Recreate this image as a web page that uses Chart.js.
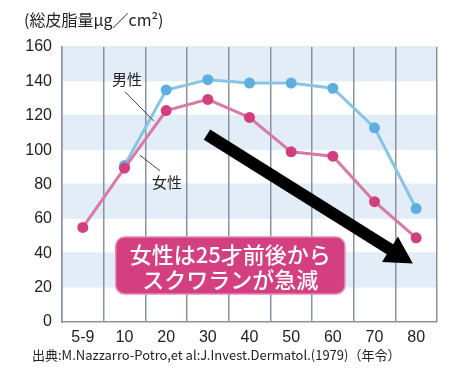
<!DOCTYPE html>
<html><head><meta charset="utf-8">
<script src="https://cdn.jsdelivr.net/npm/chart.js@4"></script>
<style>html,body{margin:0;padding:0;background:#fff}#wrap{width:458px;height:378px}</style>
</head><body><div id="wrap"><canvas id="c" width="458" height="378"></canvas></div>
<script>
const categories = ['5-9','10','20','30','40','50','60','70','80'];
const maleValues = [null, 91, 135, 141, 139, 139, 136, 113, 66];
const femaleValues = [55, 89.5, 123, 129.5, 119, 99, 96.5, 70, 49];
const yMin = 0, yMax = 160, yStep = 20;
const titleText = '(総皮脂量μg／cm²)';
const sourceText = '出典:M.Nazzarro-Potro,et al:J.Invest.Dermatol.(1979)（年令）';
const maleLabel = '男性', femaleLabel = '女性';
const boxLines = ['女性は25才前後から', 'スクワランが急減'];

const FONT = '"Noto Sans CJK JP", "Noto Sans", sans-serif';
const NUMFONT = '"Liberation Sans", "Noto Sans CJK JP", sans-serif';
// annotation anchors in data units (category index, value)
const ann = {
  maleText: [1.06, 141], maleLead: [[1.01, 134], [1.70, 117]],
  femaleText: [2.02, 81], femaleLead: [[1.37, 97], [1.85, 88]],
  arrow: [[2.98, 109], [7.92, 34]],
  box: [[0.79, 49.4], [6.29, 16.3]]
};

const deco = {
  id: 'deco',
  beforeDraw(chart) {
    const {ctx, chartArea: a, scales: {y}} = chart;
    ctx.save();
    ctx.fillStyle = '#fff';
    ctx.fillRect(0, 0, chart.width, chart.height);
    ctx.fillStyle = '#e2edf8';
    for (let v = yMax; v > yMin; v -= 2 * yStep) {
      const t = y.getPixelForValue(v), b = y.getPixelForValue(v - yStep);
      ctx.fillRect(a.left, t - 1, a.right - a.left, b - t + 1);
    }
    ctx.restore();
  },
  afterDraw(chart) {
    const {ctx, scales: {x, y}} = chart;
    const P = p => [x.getPixelForValue(p[0]), y.getPixelForValue(p[1])];
    ctx.save();
    // title
    ctx.fillStyle = '#222';
    ctx.font = '16px ' + FONT;
    ctx.textBaseline = 'middle';
    ctx.textAlign = 'left';
    ctx.fillText(titleText, 24, 20, 140);
    // source
    ctx.font = '13px ' + FONT;
    ctx.fillText(sourceText, 32, 355, 406);
    // leader lines
    ctx.strokeStyle = '#444';
    ctx.lineWidth = 1;
    [ann.maleLead, ann.femaleLead].forEach(l => {
      const p0 = P(l[0]), p1 = P(l[1]);
      ctx.beginPath(); ctx.moveTo(p0[0], p0[1]); ctx.lineTo(p1[0], p1[1]); ctx.stroke();
    });
    ctx.font = '15px ' + FONT;
    ctx.textAlign = 'center';
    ctx.fillStyle = '#222';
    let p = P(ann.maleText); ctx.fillText(maleLabel, p[0], p[1]);
    p = P(ann.femaleText); ctx.fillText(femaleLabel, p[0], p[1]);
    // arrow
    const s = P(ann.arrow[0]), e = P(ann.arrow[1]);
    const dx = e[0] - s[0], dy = e[1] - s[1], L = Math.hypot(dx, dy);
    const ux = dx / L, uy = dy / L, nx = -uy, ny = ux;
    const hl = 27, hw = 15, sw = 6;
    const bx = e[0] - ux * hl, by = e[1] - uy * hl;
    ctx.fillStyle = '#000';
    ctx.beginPath();
    ctx.moveTo(s[0] + nx * sw, s[1] + ny * sw);
    ctx.lineTo(bx + nx * sw, by + ny * sw);
    ctx.lineTo(bx + nx * hw, by + ny * hw);
    ctx.lineTo(e[0], e[1]);
    ctx.lineTo(bx - nx * hw, by - ny * hw);
    ctx.lineTo(bx - nx * sw, by - ny * sw);
    ctx.lineTo(s[0] - nx * sw, s[1] - ny * sw);
    ctx.closePath();
    ctx.fill();
    // box
    const b0 = P(ann.box[0]), b1 = P(ann.box[1]);
    ctx.beginPath();
    ctx.roundRect(b0[0], b0[1], b1[0] - b0[0], b1[1] - b0[1], 9);
    ctx.fillStyle = '#d33f80';
    ctx.fill();
    ctx.strokeStyle = '#e58ab2';
    ctx.lineWidth = 1.5;
    ctx.stroke();
    ctx.fillStyle = '#fff';
    ctx.font = '500 22px ' + FONT;
    const cx = (b0[0] + b1[0]) / 2, h = b1[1] - b0[1];
    ctx.fillText(boxLines[0], cx, b0[1] + h * 0.31, 204);
    ctx.fillText(boxLines[1], cx, b0[1] + h * 0.74);
    ctx.restore();
  }
};

new Chart(document.getElementById('c'), {
  type: 'line',
  data: {
    labels: categories,
    datasets: [
      { label: femaleLabel, data: femaleValues, borderColor: '#d87aa6', backgroundColor: '#d23f7e',
        pointBackgroundColor: '#d23f7e', pointBorderColor: '#d23f7e', borderWidth: 3, pointRadius: 5.5, pointBorderWidth: 0 },
      { label: maleLabel, data: maleValues, borderColor: '#86c5e4', backgroundColor: '#5cafdf',
        pointBackgroundColor: '#5cafdf', pointBorderColor: '#5cafdf', borderWidth: 3, pointRadius: 5.5, pointBorderWidth: 0 }
    ]
  },
  options: {
    responsive: false, animation: false, devicePixelRatio: 1,
    layout: { padding: { left: 0, top: 47, right: 21, bottom: 26 } },
    plugins: { legend: { display: false }, tooltip: { enabled: false }, title: { display: false } },
    scales: {
      x: {
        offset: true,
        grid: { display: true, offset: true, color: '#8a92a8', lineWidth: 1.5, drawTicks: false },
        border: { display: true, color: '#8a92a8', width: 1.5 },
        ticks: { color: '#222', font: { size: 16, family: NUMFONT }, padding: 6, maxRotation: 0, autoSkip: false },
        afterFit(s) { s.height = 30; }
      },
      y: {
        min: yMin, max: yMax,
        grid: { display: false, drawTicks: false },
        border: { display: true, color: '#8a92a8', width: 1.5 },
        ticks: { stepSize: yStep, color: '#222', font: { size: 16, family: NUMFONT }, padding: 10 },
        afterFit(s) { s.width = 62; }
      }
    }
  },
  plugins: [deco]
});
</script>
</body></html>
